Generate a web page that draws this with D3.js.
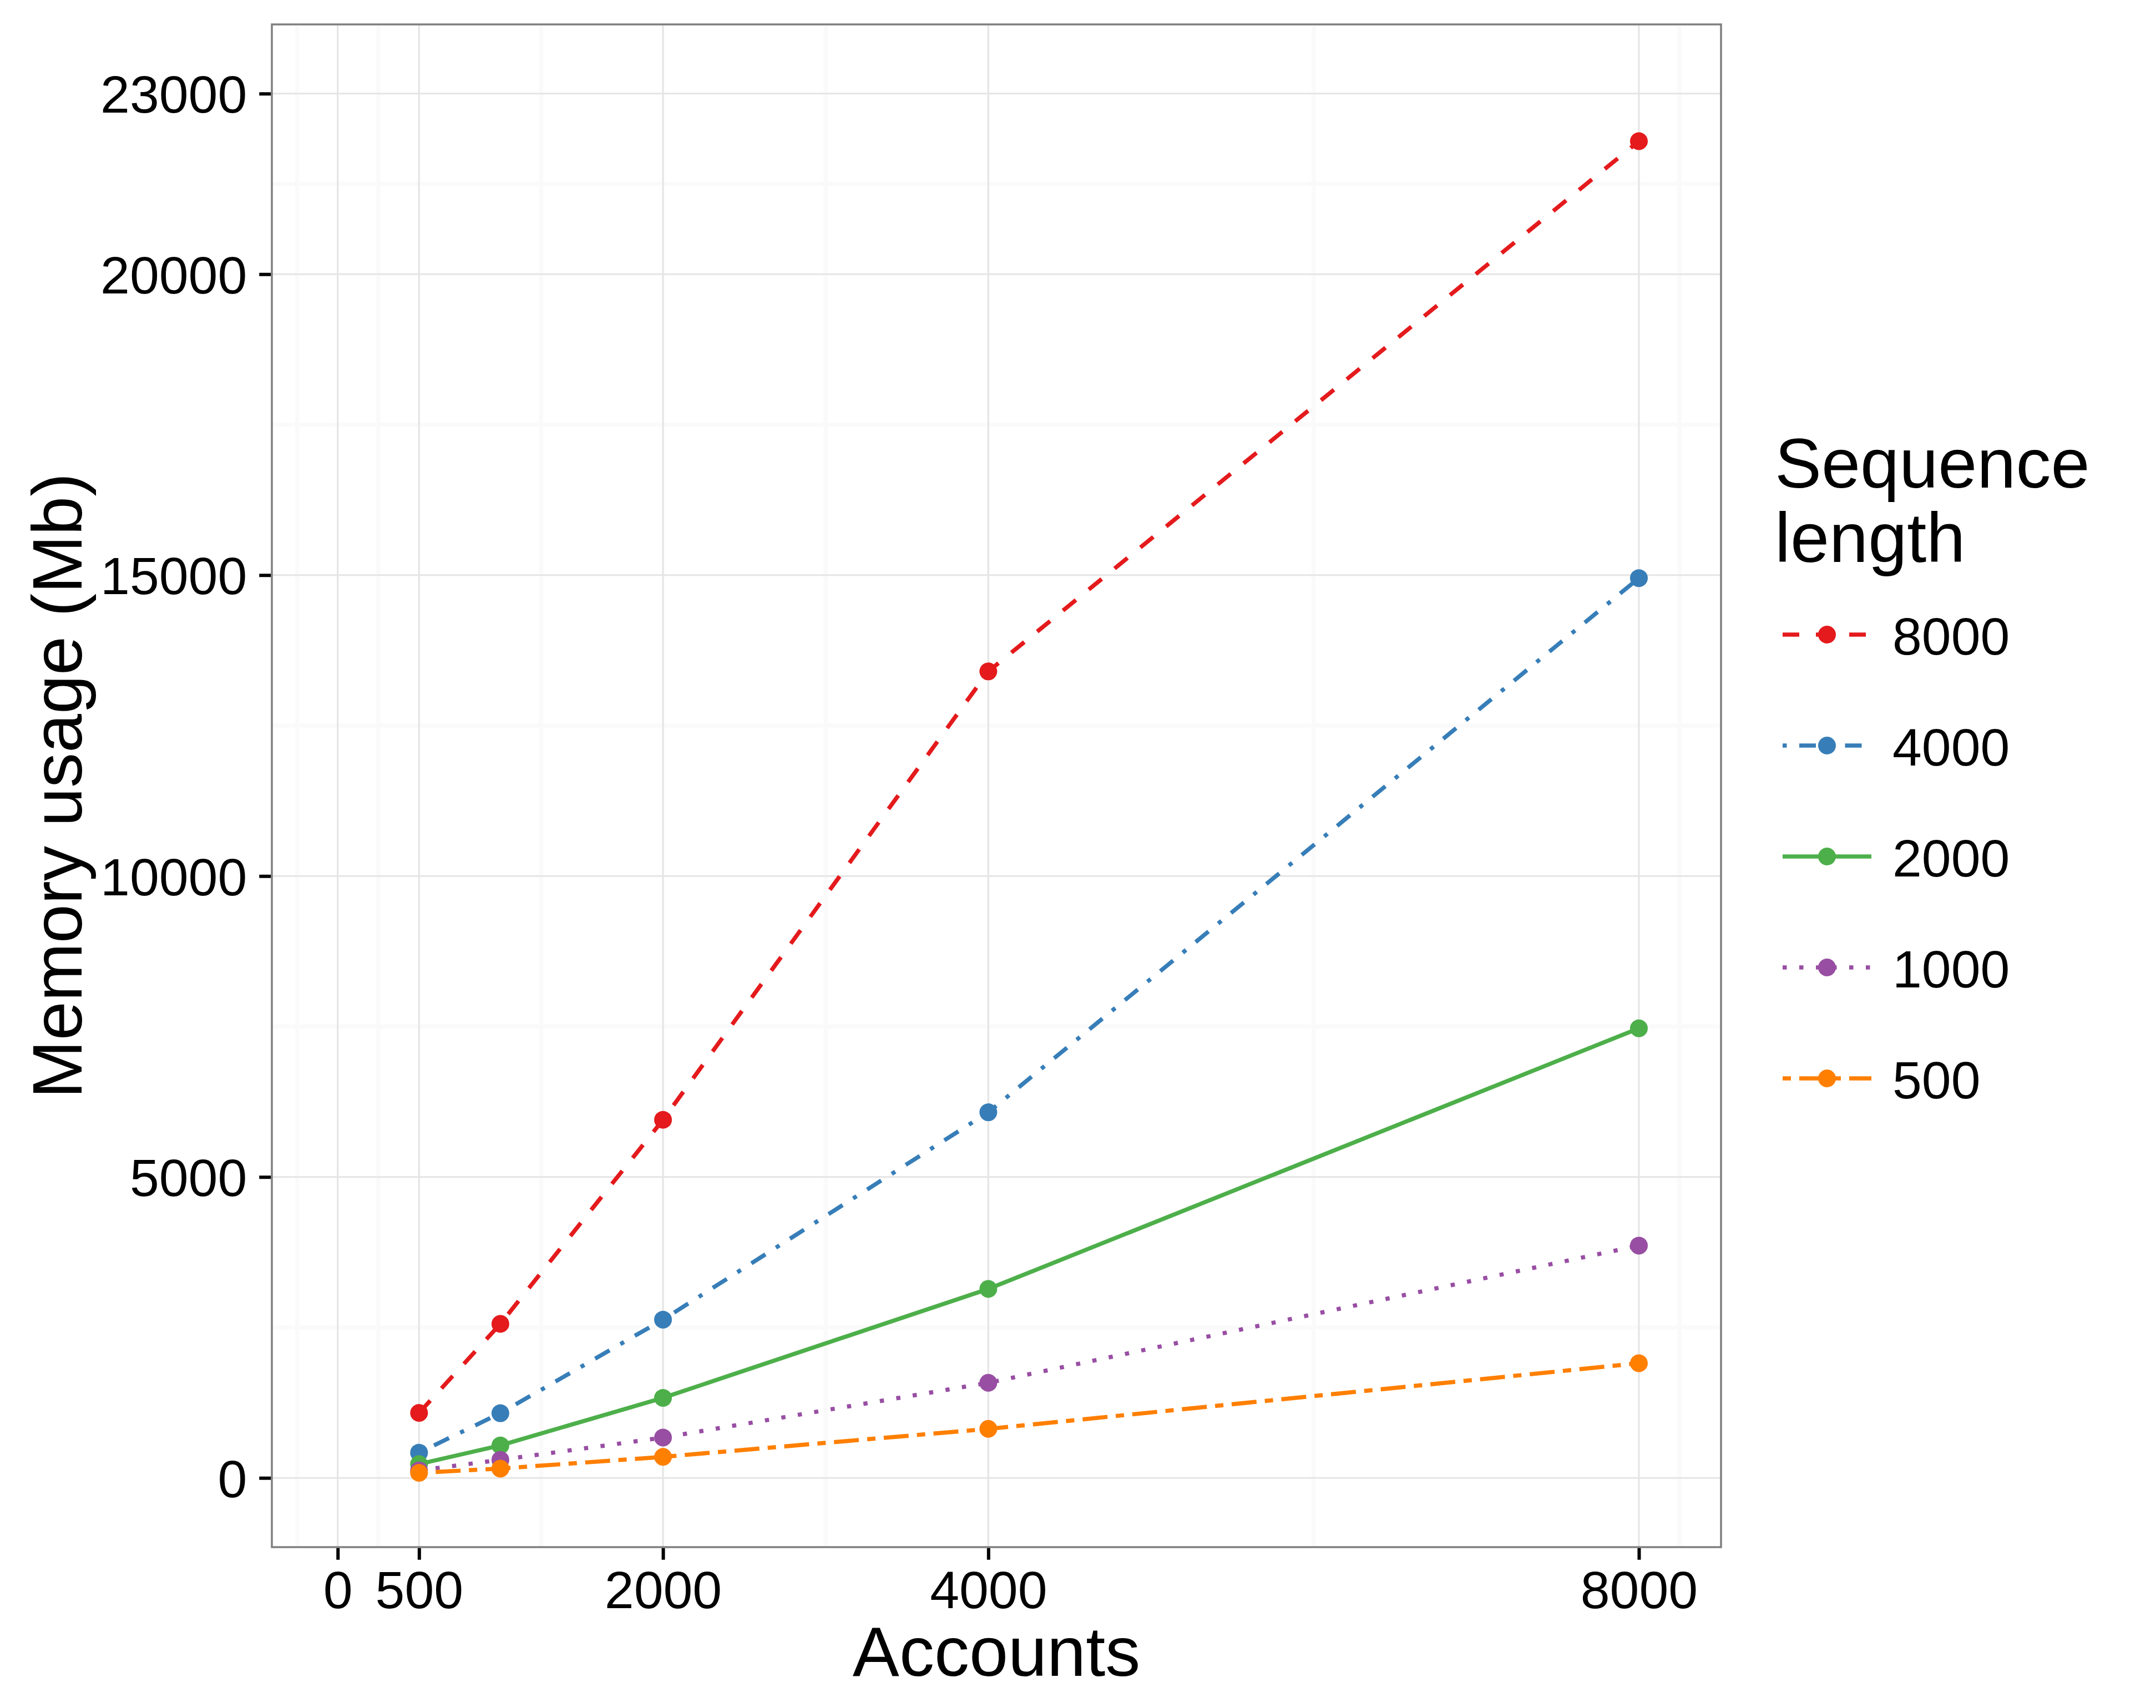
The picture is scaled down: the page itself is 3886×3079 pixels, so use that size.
<!DOCTYPE html>
<html>
<head>
<meta charset="utf-8">
<script src="https://cdn.jsdelivr.net/npm/d3@7"></script>
<style>
  body { margin: 0; background: #fff; }
  svg { display: block; }
  text { font-family: "Liberation Sans", Arial, Helvetica, sans-serif; fill: #000; }
</style>
</head>
<body>
<div id="chart"></div>
<script>
// Data
var accounts = [500, 1000, 2000, 4000, 8000];
var seqLengths = ["8000", "4000", "2000", "1000", "500"];
var mem8000 = [1080, 2560, 5950, 13400, 22210];
var mem4000 = [420, 1075, 2630, 6075, 14950];
var mem2000 = [230, 540, 1330, 3140, 7470];
var mem1000 = [125, 300, 670, 1580, 3860];
var mem500 = [85, 155, 350, 815, 1905];

var xBreaks = [0, 500, 2000, 4000, 8000];
var yBreaks = [0, 5000, 10000, 15000, 20000, 23000];
var xMinor = [-250, 250, 1250, 3000, 6000, 8250];
var yMinor = [2500, 7500, 12500, 17500, 21500];

var colors = ["#E41A1C", "#377EB8", "#4DAF4A", "#984EA3", "#FF7F00"];
var u = 7.5; // one line-width unit
var dashes = [
  [4 * u, 4 * u].join(","),               // dashed
  [1 * u, 3 * u, 4 * u, 3 * u].join(","), // dotdash
  "none",                                 // solid
  [1 * u, 3 * u].join(","),               // dotted
  [2 * u, 2 * u, 6 * u, 2 * u].join(",")  // twodash
];

var series = [mem8000, mem4000, mem2000, mem1000, mem500].map(function(vals, i) {
  return {
    key: seqLengths[i],
    color: colors[i],
    dash: dashes[i],
    values: vals.map(function(v, j) { return { x: accounts[j], y: v }; })
  };
});

var W = 3886, H = 3079;
var panel = { left: 490, right: 3102, top: 44, bottom: 2789 };

var x = d3.scaleLinear().domain([-405, 8505]).range([panel.left, panel.right]);
var y = d3.scaleLinear().domain([-1150, 24150]).range([panel.bottom, panel.top]);

var svg = d3.select("#chart").append("svg")
    .attr("width", W)
    .attr("height", H);

svg.append("rect").attr("width", W).attr("height", H).attr("fill", "#fff");

var grid = svg.append("g");

// minor grid
grid.selectAll(".xminor").data(xMinor).enter().append("line")
    .attr("x1", function(d) { return x(d); }).attr("x2", function(d) { return x(d); })
    .attr("y1", panel.top).attr("y2", panel.bottom)
    .attr("stroke", "#fafafa").attr("stroke-width", 7.5);
grid.selectAll(".yminor").data(yMinor).enter().append("line")
    .attr("y1", function(d) { return y(d); }).attr("y2", function(d) { return y(d); })
    .attr("x1", panel.left).attr("x2", panel.right)
    .attr("stroke", "#fafafa").attr("stroke-width", 7.5);

// major grid
grid.selectAll(".xmajor").data(xBreaks).enter().append("line")
    .attr("x1", function(d) { return x(d); }).attr("x2", function(d) { return x(d); })
    .attr("y1", panel.top).attr("y2", panel.bottom)
    .attr("stroke", "#e5e5e5").attr("stroke-width", 3.2);
grid.selectAll(".ymajor").data(yBreaks).enter().append("line")
    .attr("y1", function(d) { return y(d); }).attr("y2", function(d) { return y(d); })
    .attr("x1", panel.left).attr("x2", panel.right)
    .attr("stroke", "#e5e5e5").attr("stroke-width", 3.2);

// lines
var line = d3.line()
    .x(function(d) { return x(d.x); })
    .y(function(d) { return y(d.y); });

svg.append("g").selectAll("path").data(series).enter().append("path")
    .attr("d", function(d) { return line(d.values); })
    .attr("fill", "none")
    .attr("stroke", function(d) { return d.color; })
    .attr("stroke-width", u)
    .attr("stroke-dasharray", function(d) { return d.dash; })
    .attr("stroke-linecap", "butt");

// points
var pts = svg.append("g");
series.forEach(function(s) {
  pts.selectAll(null).data(s.values).enter().append("circle")
      .attr("cx", function(d) { return x(d.x); })
      .attr("cy", function(d) { return y(d.y); })
      .attr("r", 16)
      .attr("fill", s.color);
});

// panel border
svg.append("rect")
    .attr("x", panel.left).attr("y", panel.top)
    .attr("width", panel.right - panel.left)
    .attr("height", panel.bottom - panel.top)
    .attr("fill", "none")
    .attr("stroke", "#7f7f7f")
    .attr("stroke-width", 3.5);

// axes
var xAxis = svg.append("g")
    .attr("transform", "translate(0," + (panel.bottom + 1.75) + ")")
    .call(d3.axisBottom(x).tickValues(xBreaks).tickFormat(d3.format("d"))
      .tickSize(21).tickPadding(20));
var yAxis = svg.append("g")
    .attr("transform", "translate(" + (panel.left - 1.75) + ",0)")
    .call(d3.axisLeft(y).tickValues(yBreaks).tickFormat(d3.format("d"))
      .tickSize(21).tickPadding(22));

[xAxis, yAxis].forEach(function(a) {
  a.select(".domain").remove();
  a.selectAll(".tick line").attr("stroke", "#000").attr("stroke-width", 6);
  a.selectAll(".tick text")
      .attr("fill", "#000")
      .style("font-size", "95px")
      .style("font-family", "'Liberation Sans', Arial, sans-serif");
});
yAxis.selectAll(".tick text").attr("dy", "0.36em");

// axis titles
svg.append("text")
    .attr("x", (panel.left + panel.right) / 2)
    .attr("y", 3021)
    .attr("text-anchor", "middle")
    .style("font-size", "126px")
    .text("Accounts");

svg.append("text")
    .attr("transform", "translate(147," + ((panel.top + panel.bottom) / 2) + ") rotate(-90)")
    .attr("text-anchor", "middle")
    .style("font-size", "126px")
    .text("Memory usage (Mb)");

// legend
var legend = svg.append("g");
legend.append("text").attr("x", 3199).attr("y", 879)
    .style("font-size", "126px").text("Sequence");
legend.append("text").attr("x", 3199).attr("y", 1013)
    .style("font-size", "126px").text("length");

var rowY = d3.scalePoint().domain(seqLengths).range([1144, 1944]);

var rows = legend.selectAll(".row").data(series).enter().append("g")
    .attr("transform", function(d) { return "translate(0," + rowY(d.key) + ")"; });

rows.append("line")
    .attr("x1", 3213).attr("x2", 3373).attr("y1", 0).attr("y2", 0)
    .attr("stroke", function(d) { return d.color; })
    .attr("stroke-width", u)
    .attr("stroke-dasharray", function(d) { return d.dash; });
rows.append("circle")
    .attr("cx", 3293).attr("cy", 0).attr("r", 16)
    .attr("fill", function(d) { return d.color; });
rows.append("text")
    .attr("x", 3411).attr("y", 36)
    .style("font-size", "95px")
    .text(function(d) { return d.key; });
</script>
</body>
</html>
